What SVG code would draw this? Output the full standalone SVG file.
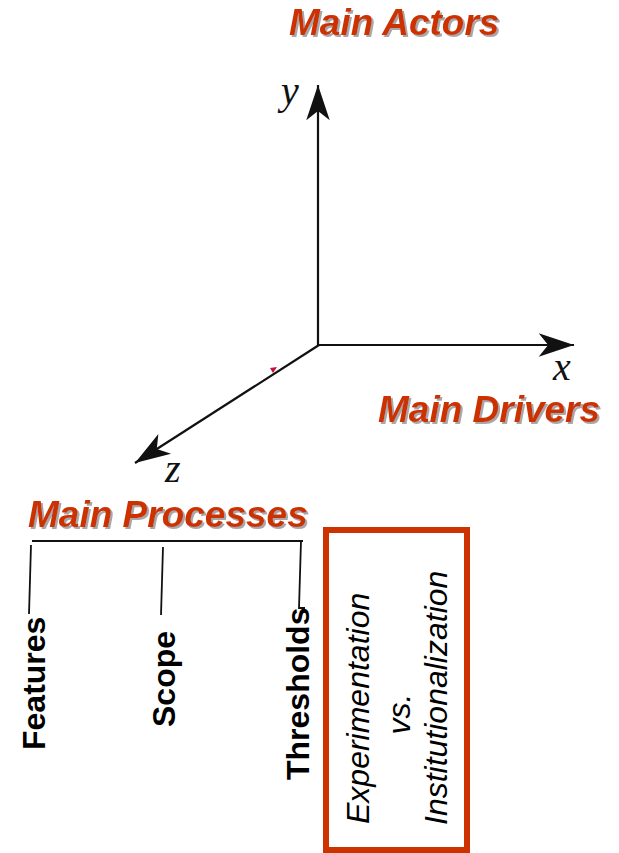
<svg xmlns="http://www.w3.org/2000/svg" width="619" height="853" viewBox="0 0 619 853">
<style>
.title{font-family:"Liberation Sans",Arial,sans-serif;font-weight:bold;font-style:italic;font-size:37px;fill:#CC3300;filter:url(#sh)}
.axl{font-family:"Liberation Serif","Times New Roman",serif;font-style:italic;font-size:40px;fill:#111}
.axis{stroke:#111;stroke-width:2.2;fill:none}
.br{stroke:#111;stroke-width:1.8;fill:none}
.lbl{font-family:"Liberation Sans",Arial,sans-serif;font-weight:bold;font-size:32px;fill:#000}
.bx{font-family:"Liberation Sans",Arial,sans-serif;font-style:italic;font-size:32px;fill:#000}
</style>
<defs>
<filter id="sh" x="-10%" y="-20%" width="120%" height="150%">
<feDropShadow dx="2" dy="2" stdDeviation="0.7" flood-color="#A8A8A8" flood-opacity="1"/>
</filter>
<marker id="ah" markerUnits="userSpaceOnUse" markerWidth="40" markerHeight="30" viewBox="-32 -12 34 24" refX="0" refY="0" orient="auto">
<path d="M0,0 L-30,-10 L-22,0 L-30,10 Z" fill="#111"/>
</marker>
</defs>
<rect width="619" height="853" fill="#fff"/>
<g id="connectors">
<line class="axis" x1="318" y1="346" x2="318" y2="85" marker-end="url(#ah)"/>
<line class="axis" x1="317" y1="345" x2="574" y2="345" marker-end="url(#ah)"/>
<line class="axis" x1="319" y1="345" x2="135" y2="463" marker-end="url(#ah)"/>
<polygon points="270,368 277,367 273,373" fill="#C8103C"/>
<line class="br" x1="32" y1="541" x2="303" y2="541"/>
<line class="br" x1="31" y1="545" x2="29" y2="614"/>
<line class="br" x1="163" y1="547" x2="161" y2="615"/>
<polyline class="br" points="301,541 299,608 305,608"/>
</g>
<g id="axis-labels">
<text class="axl" x="281" y="104">y</text>
<text class="axl" x="553" y="380">x</text>
<text class="axl" x="165" y="482">z</text>
</g>
<g id="main-actors">
<text class="title" x="289" y="35">Main Actors</text>
</g>
<g id="main-drivers">
<text class="title" x="378" y="422">Main Drivers</text>
</g>
<g id="main-processes">
<text class="title" x="28" y="527">Main Processes</text>
</g>
<g id="features">
<text class="lbl" transform="translate(45,750) rotate(-90)">Features</text>
</g>
<g id="scope">
<text class="lbl" transform="translate(175,727) rotate(-90)">Scope</text>
</g>
<g id="thresholds">
<text class="lbl" transform="translate(309,780) rotate(-90)">Thresholds</text>
</g>
<g id="exp-box">
<rect x="326" y="530" width="141" height="320" fill="none" stroke="#CC3300" stroke-width="6"/>
<text class="bx" transform="translate(369,824) rotate(-90)">Experimentation</text>
<text class="bx" text-anchor="middle" transform="translate(410,714) rotate(-90)">vs.</text>
<text class="bx" transform="translate(447,825) rotate(-90)">Institutionalization</text>
</g>
</svg>
